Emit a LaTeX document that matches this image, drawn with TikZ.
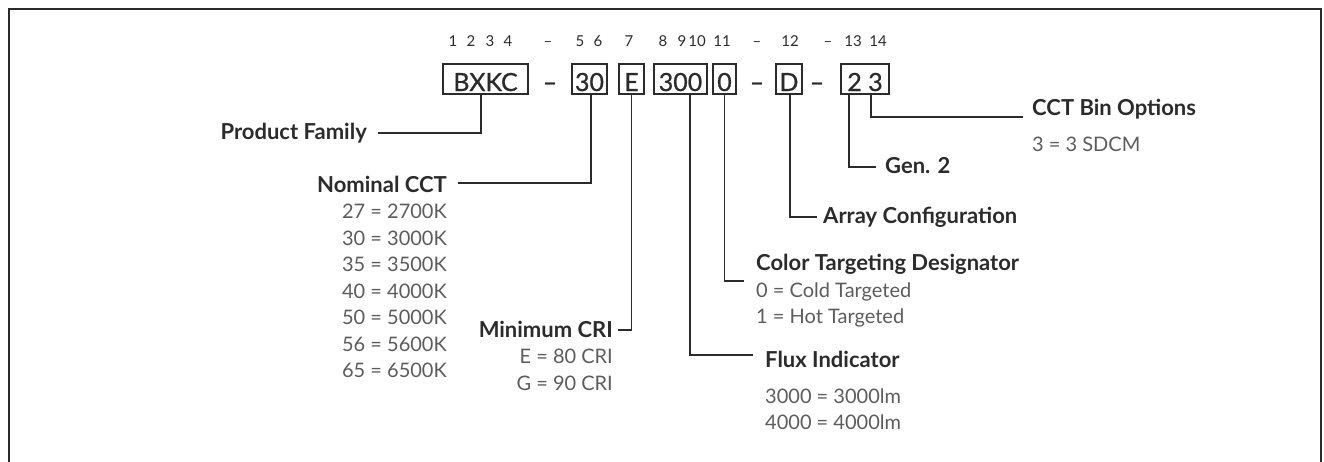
\documentclass[tikz,border=0pt]{standalone}
\usepackage{fontspec}
\setmainfont{Lato}
\newfontfamily\boxfont[FakeBold=0.8]{Lato}
\usetikzlibrary{positioning}
\definecolor{ink}{HTML}{2B2B2B}
\definecolor{soft}{HTML}{5C5C5C}
\tikzstyle{code} = [rectangle, draw=ink, line width=1.1pt, inner sep=0pt, minimum height=30pt, text height=25pt, text depth=1pt, text=ink, font=\boxfont\fontsize{25}{25}\selectfont]
\tikzstyle{sep} = [inner sep=0pt, anchor=base, text=ink, font=\bfseries\fontsize{25}{25}\selectfont]
\tikzstyle{digit} = [inner sep=0pt, anchor=base, text=ink, font=\fontsize{15}{15}\selectfont]
\tikzstyle{title} = [inner sep=0pt, text=ink, font=\bfseries\fontsize{22}{22}\selectfont]
\tikzstyle{value} = [inner sep=0pt, text=soft, font=\fontsize{20}{20}\selectfont]
\tikzstyle{leader} = [draw=ink, line width=1.3pt]

\begin{document}
\begin{tikzpicture}[x=1pt, y=-1pt]
\useasboundingbox (0,0) rectangle (1324,461);
\draw [leader, line width=1.6pt] (9,470) |- (1321,9) -- (1321,470);

\foreach \x/\t [count=\i] in {453/1, 471/2, 490/3, 508/4, 548/--, 580/5, 598/6, 629/7, 663/8, 682/9, 697/10, 722/11, 757/--, 790/12, 828/--, 853/13, 878/14}
    \node (Pos\i) [digit] at (\x,46) {\t};

\node (BXKC) [code, minimum width=85pt] at (485.5,79) {BXKC};
\node (CCT) [code, minimum width=35pt] at (589.5,79) {30};
\node (CRI) [code, minimum width=25pt] at (631.5,79) {E};
\node (Flux) [code, minimum width=53pt] at (680.5,79) {300};
\node (Target) [code, minimum width=23pt] at (724.5,79) {0};
\node (Array) [code, minimum width=26pt] at (789,79) {D};
\node (Bin) [code, minimum width=48pt] at (865,79) {2 3};
\node (Dash1) [sep] at (550,91) {--};
\node (Dash2) [sep] at (757,91) {--};
\node (Dash3) [sep] at (817,91) {--};

\node (FamLabel) [title, anchor=base east] at (367,139) {Product Family};
\node (CCTLabel) [title, anchor=base east] at (447,192) {Nominal CCT};
\foreach \v [count=\i] in {27 = 2700K, 30 = 3000K, 35 = 3500K, 40 = 4000K, 50 = 5000K, 56 = 5600K, 65 = 6500K}
    \node (CCTVal\i) [value, anchor=base east] at (447,192+26.5*\i) {\v};
\node (CRILabel) [title, anchor=base east] at (613,337) {Minimum CRI};
\node (CRIVal1) [value, anchor=base east] at (613,363) {E = 80 CRI};
\node (CRIVal2) [value, anchor=base east] at (613,390) {G = 90 CRI};
\node (FluxLabel) [title, anchor=base west] at (765,367) {Flux Indicator};
\node (FluxVal1) [value, anchor=base west] at (765,403) {3000 = 3000lm};
\node (FluxVal2) [value, anchor=base west] at (765,429) {4000 = 4000lm};
\node (TargetLabel) [title, anchor=base west] at (756,270) {Color Targeting Designator};
\node (TargetVal1) [value, anchor=base west] at (756,297) {0 = Cold Targeted};
\node (TargetVal2) [value, anchor=base west] at (756,323) {1 = Hot Targeted};
\node (ArrayLabel) [title, anchor=base west] at (823,223) {Array Configuration};
\node (GenLabel) [title, anchor=base west] at (885,173) {Gen. 2};
\node (BinLabel) [title, anchor=base west] at (1032,115) {CCT Bin Options};
\node (BinVal) [value, anchor=base west] at (1032,151) {3 = 3 SDCM};

\coordinate (FamEnd) at (378,133);
\coordinate (CCTEnd) at (458,183);
\coordinate (CRIEnd) at (618,330);
\coordinate (FluxEnd) at (753,355);
\coordinate (TargetEnd) at (744,281);
\coordinate (ArrayEnd) at (817,217);
\coordinate (GenEnd) at (876,167);
\coordinate (BinEnd) at (1023,117);

\draw [leader] ([xshift=-4.5pt]BXKC.south) |- (FamEnd);
\draw [leader] ([xshift=1.5pt]CCT.south) |- (CCTEnd);
\draw [leader] (CRI.south) |- (CRIEnd);
\draw [leader] ([xshift=9.5pt]Flux.south) |- (FluxEnd);
\draw [leader] (Target.south) |- (TargetEnd);
\draw [leader] ([xshift=1pt]Array.south) |- (ArrayEnd);
\draw [leader] ([xshift=-16pt]Bin.south) |- (GenEnd);
\draw [leader] ([xshift=6pt]Bin.south) |- (BinEnd);
\end{tikzpicture}
\end{document}
